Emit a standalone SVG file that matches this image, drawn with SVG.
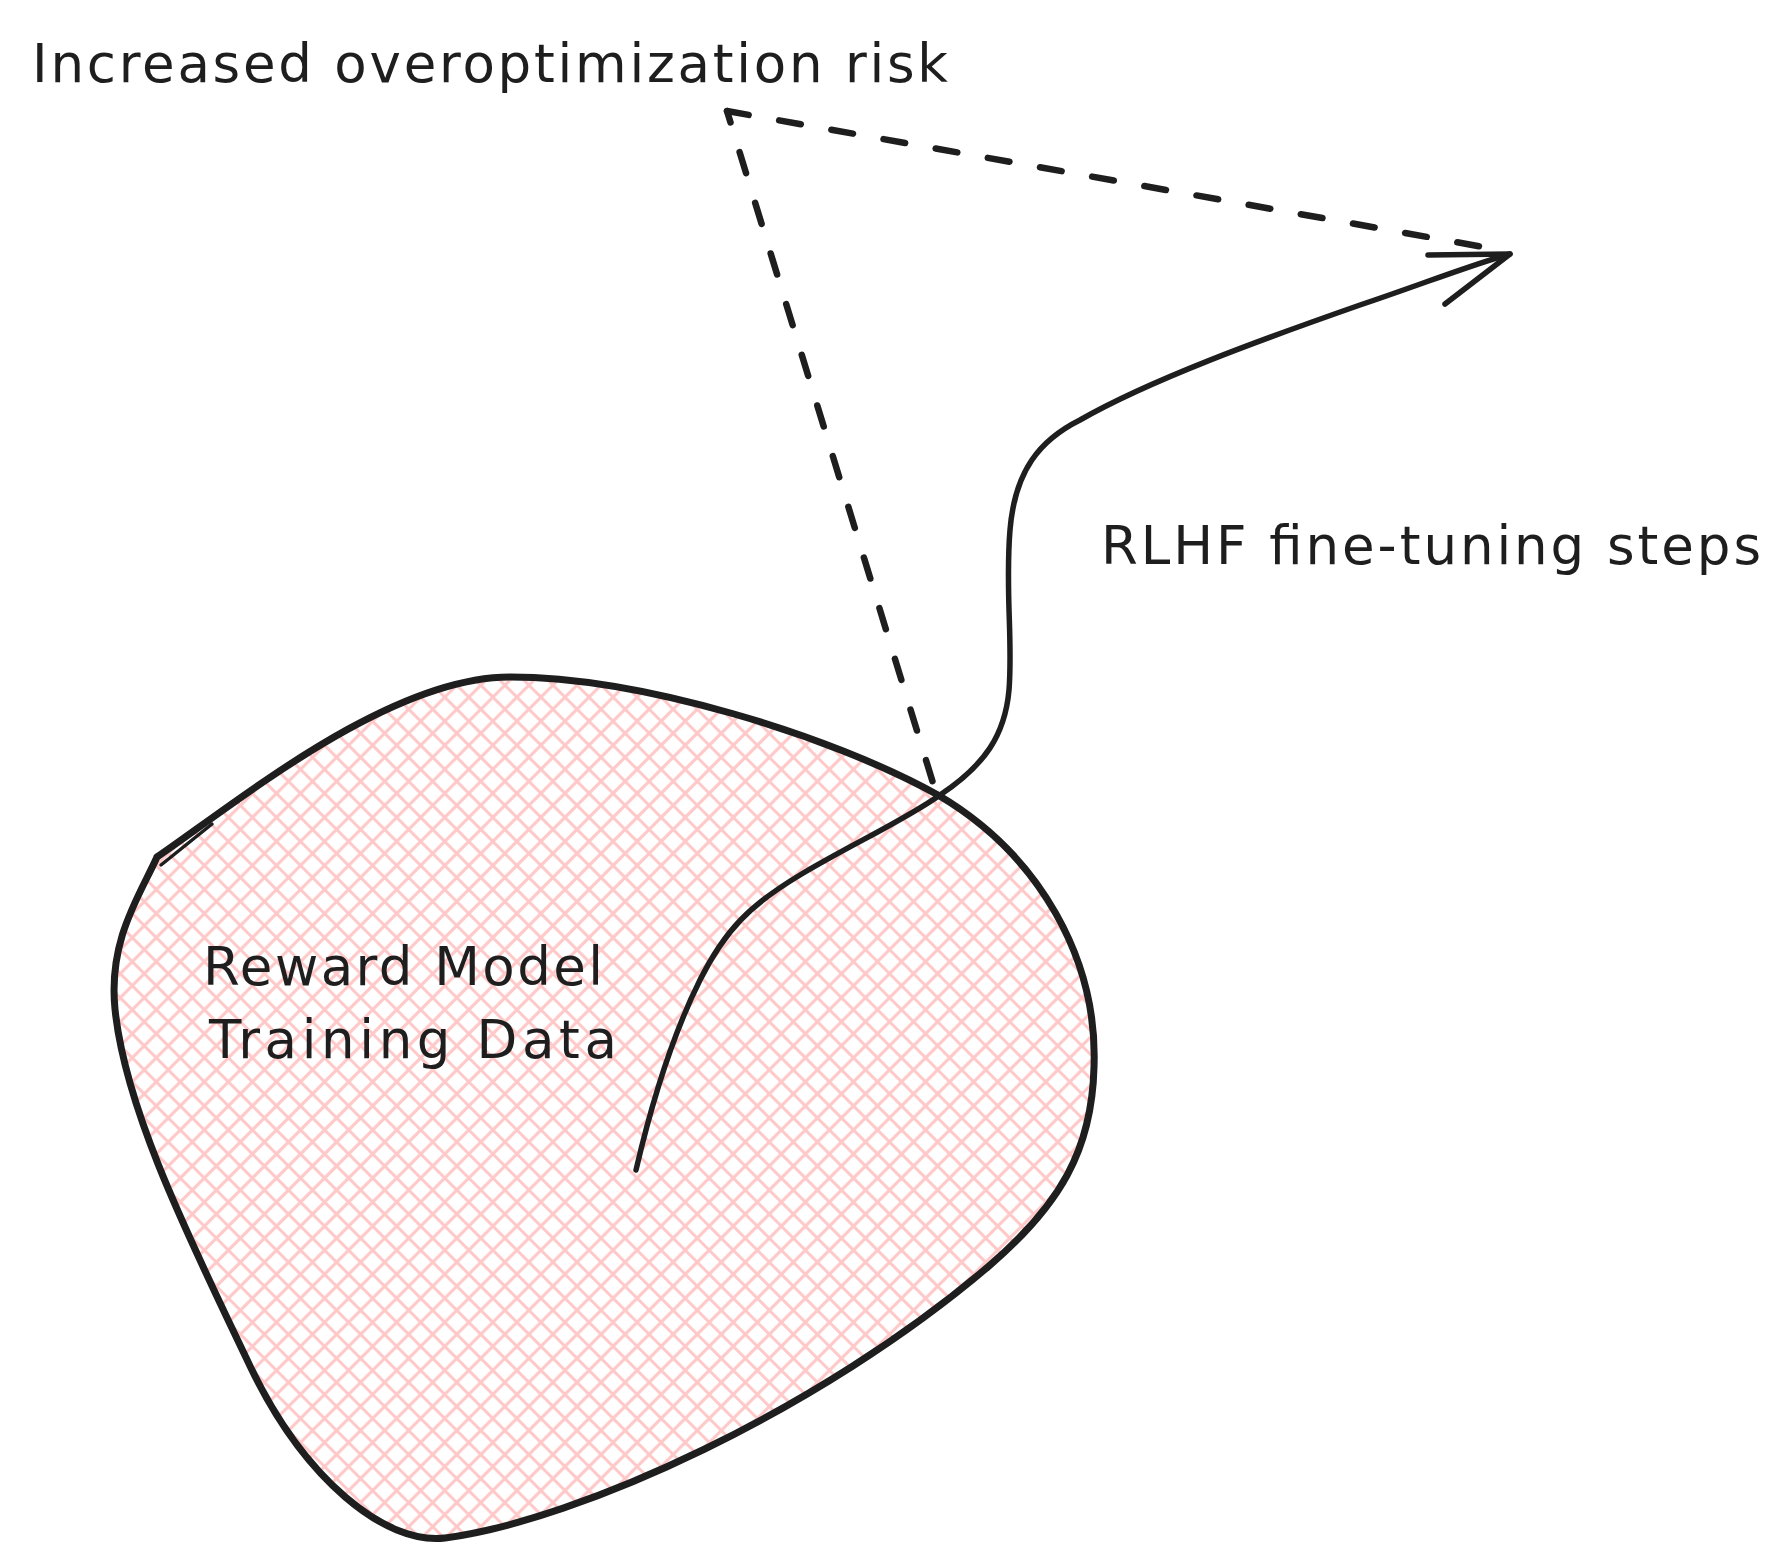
<svg xmlns="http://www.w3.org/2000/svg" width="1787" height="1566" viewBox="0 0 1787 1566">
  <style>
    .txt { font-family: "DejaVu Sans", "Liberation Sans", sans-serif; font-size: 53px; fill: #1e1e1e; }
    .outline { fill: none; stroke: #1e1e1e; stroke-linecap: round; stroke-linejoin: round; }
    .dash { fill: none; stroke: #1e1e1e; stroke-width: 6.5; stroke-linecap: round; stroke-dasharray: 22 31; }
  </style>
  <defs>
    <pattern id="hatch" patternUnits="userSpaceOnUse" width="17" height="17" patternTransform="rotate(45)">
      <path d="M8.5,0 V17 M0,8.5 H17" stroke="#ffc9c9" stroke-width="3.2" fill="none"/>
    </pattern>
  </defs>
  <rect width="1787" height="1566" fill="#ffffff"/>

  <g id="reward-model-training-data">
    <path d="M157,857 C240,800 390,677 510,677 C640,677 830,735 938,795 C1040,855 1098,960 1094,1067 C1092,1150 1060,1205 989,1266 C820,1410 580,1520 445,1538 C385,1545 304,1479 250,1366 C190,1240 125,1110 115,1009 C108,940 140,895 157,857 Z" fill="url(#hatch)" stroke="none"/>
    <path class="outline" stroke-width="7" d="M157,857 C240,800 390,677 510,677 C640,677 830,735 938,795 C1040,855 1098,960 1094,1067 C1092,1150 1060,1205 989,1266 C820,1410 580,1520 445,1538 C385,1545 304,1479 250,1366 C190,1240 125,1110 115,1009 C108,940 140,895 157,857"/>
    <path class="outline" stroke-width="3.5" d="M161,865 L212,824"/>
    <text class="txt" x="203" y="985" textLength="400">Reward Model</text>
    <text class="txt" x="209" y="1058" textLength="408">Training Data</text>
  </g>

  <g id="label-overoptimization">
    <text class="txt" x="32" y="82" textLength="916">Increased overoptimization risk</text>
  </g>

  <g id="label-rlhf">
    <text class="txt" x="1101" y="564" textLength="660">RLHF fine-tuning steps</text>
  </g>

  <g id="connectors">
    <path class="outline" stroke-width="5.5" d="M636,1170 C650,1110 670,1040 700,980 C725,930 750,905 800,875 C850,845 905,820 940,795 C985,765 1005,735 1009,690 C1013,640 1005,590 1010,530 C1015,470 1040,440 1080,420 C1150,380 1260,340 1360,305 C1420,285 1470,265 1510,254"/>
    <path class="outline" stroke-width="5.5" d="M1428,255 L1510,254 L1445,304"/>
    <path class="dash" d="M727,111 L1500,250"/>
    <path class="dash" stroke-dashoffset="10" d="M727,111 L937,796"/>
  </g>
</svg>
